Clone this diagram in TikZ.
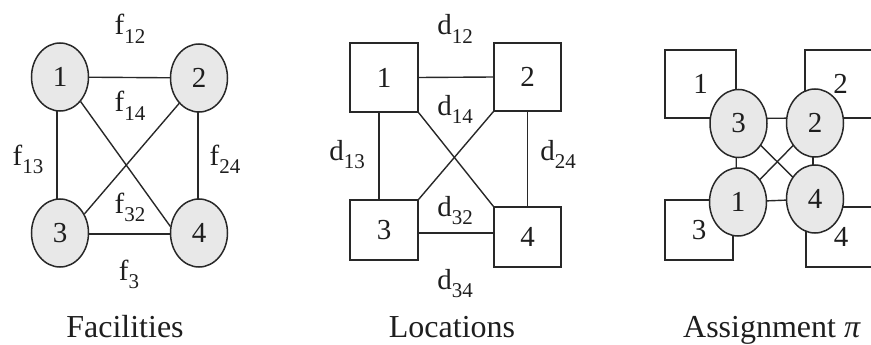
\documentclass[tikz,border=0pt]{standalone}
\usepackage{fontspec}
\setmainfont{Liberation Serif}
\usetikzlibrary{shapes.geometric,backgrounds}
\definecolor{linec}{RGB}{40,40,40}
\definecolor{fillc}{RGB}{232,232,232}
\definecolor{txtc}{RGB}{30,30,30}
\newcommand{\lbsub}[1]{\raisebox{-0.3em}{\fontsize{21pt}{21pt}\selectfont #1}}
\begin{document}
\begin{tikzpicture}[x=1pt,y=-1pt,
  fac/.style={ellipse, draw=linec, fill=fillc, line width=1.5pt, minimum width=57pt, minimum height=68pt, inner sep=0pt, text=txtc, font=\fontsize{29pt}{29pt}\selectfont},
  locbox/.style={rectangle, draw=linec, line width=1.4pt, inner sep=0pt, text=txtc, font=\fontsize{29pt}{29pt}\selectfont},
  edgeline/.style={draw=linec, line width=1.4pt},
  lab/.style={anchor=base, inner sep=0pt, text=txtc, font=\fontsize{29pt}{29pt}\selectfont},
  captext/.style={anchor=base, inner sep=0pt, text=txtc, font=\fontsize{32pt}{32pt}\selectfont}]
\useasboundingbox (0,0) rectangle (871,345);
\clip (0,0) rectangle (871,345);

% ---------------- Facilities ----------------
\node[fac] (f1) at (60,77) {1};
\node[fac] (f2) at (199,78) {2};
\node[fac] (f3) at (60,233) {3};
\node[fac] (f4) at (199,233) {4};
\begin{pgfonlayer}{background}
  \draw[edgeline] (f1.center) -- (f2.center);
  \draw[edgeline] ([xshift=-3pt]f1.center) -- ([xshift=-3pt]f3.center);
  \draw[edgeline] ([xshift=-1pt]f2.center) -- ([xshift=-1pt]f4.center);
  \draw[edgeline] ([yshift=-1pt]f3.center) -- ([yshift=-1pt]f4.center);
\end{pgfonlayer}
\draw[edgeline] (f1.-50) -- (f4.167);
\draw[edgeline] (f2.-128) -- (f3.38);
\node[lab] (lf12) at (130,35) {f\lbsub{12}};
\node[lab] (lf14) at (130,112) {f\lbsub{14}};
\node[lab] (lf13) at (28,165) {f\lbsub{13}};
\node[lab] (lf24) at (225,165) {f\lbsub{24}};
\node[lab] (lf32) at (130,213) {f\lbsub{32}};
\node[lab] (lf3) at (129,280) {f\lbsub{3}};
\node[captext] (cf) at (125,337) {Facilities};

% ---------------- Locations ----------------
\node[locbox, minimum width=68pt, minimum height=69pt] (l1) at (384,77.5) {1};
\node[locbox, minimum width=67pt, minimum height=68pt] (l2) at (527.5,77) {2};
\node[locbox, minimum width=68pt, minimum height=60pt] (l3) at (384,230) {3};
\node[locbox, minimum width=67pt, minimum height=60pt] (l4) at (527.5,237) {4};
\draw[edgeline] (l1.east) -- (l2.west);
\draw[edgeline] ([xshift=-5pt]l1.south) -- ([xshift=-5pt]l3.north);
\draw[edgeline] (l2.south) -- (l4.north);
\draw[edgeline] ([yshift=-3pt]l3.east) -- ([yshift=4pt]l4.west);
\draw[edgeline] (l1.south east) -- (l4.north west);
\draw[edgeline] (l2.south west) -- (l3.north east);
\node[lab] (ld12) at (455,35) {d\lbsub{12}};
\node[lab] (ld14) at (455,115) {d\lbsub{14}};
\node[lab] (ld13) at (347,160) {d\lbsub{13}};
\node[lab] (ld24) at (558,160) {d\lbsub{24}};
\node[lab] (ld32) at (455,216) {d\lbsub{32}};
\node[lab] (ld34) at (455,289) {d\lbsub{34}};
\node[captext] (cl) at (452,337) {Locations};

% ---------------- Assignment ----------------
\node[locbox, minimum width=71pt, minimum height=68pt] (a1) at (700.5,84) {1};
\node[locbox, minimum width=71pt, minimum height=68pt] (a2) at (840.5,84) {2};
\node[locbox, minimum width=68pt, minimum height=60pt] (a3) at (699,230) {3};
\node[locbox, minimum width=70pt, minimum height=60pt] (a4) at (841,237) {4};
\node[fac] (e3) at (738.5,123.5) {3};
\node[fac] (e2) at (815,123) {2};
\node[fac] (e1) at (738,202) {1};
\node[fac] (e4) at (815,199) {4};
\begin{pgfonlayer}{background}
  \draw[edgeline] ([yshift=5pt]e3.center) -- ([yshift=5pt]e2.center);
  \draw[edgeline] ([xshift=-2pt]e3.center) -- ([xshift=-2pt]e1.center);
  \draw[edgeline] ([xshift=-2pt]e2.center) -- ([xshift=-2pt]e4.center);
  \draw[edgeline] (e1.center) -- (e4.center);
  \draw[edgeline] (e3.center) -- (e4.center);
  \draw[edgeline] (e2.center) -- (e1.center);
\end{pgfonlayer}
\node[captext] (ca) at (772,337) {Assignment \textit{π}};
\end{tikzpicture}
\end{document}
